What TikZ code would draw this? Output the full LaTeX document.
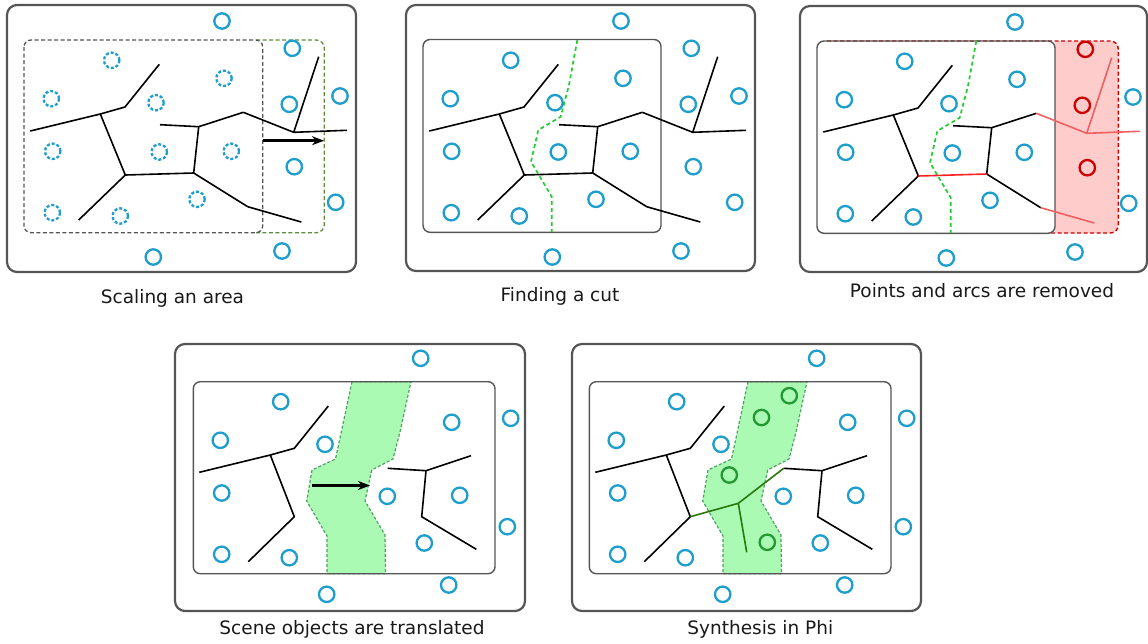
\documentclass[tikz,border=0pt]{standalone}
\usepackage{fontspec}
\setmainfont{DejaVu Sans}
\usetikzlibrary{arrows.meta}
\definecolor{cblue}{RGB}{30,158,204}
\definecolor{boxgray}{RGB}{85,85,85}
\definecolor{cutgreen}{RGB}{34,204,51}
\definecolor{scalegreen}{RGB}{95,140,60}
\definecolor{regfill}{RGB}{255,204,204}
\definecolor{regborder}{RGB}{204,0,0}
\definecolor{salmon}{RGB}{240,96,96}
\definecolor{brightred}{RGB}{255,34,34}
\definecolor{transfill}{RGB}{170,250,180}
\definecolor{transborder}{RGB}{80,160,100}
\definecolor{newgreen}{RGB}{34,153,51}
\definecolor{newline}{RGB}{40,120,10}
\tikzset{
  outerbox/.style={draw=boxgray, line width=2.2pt, rounded corners=10pt},
  innerbox/.style={draw=boxgray, line width=1.4pt, rounded corners=7pt},
  graydash/.style={draw=boxgray, line width=1.3pt, rounded corners=7pt, dash pattern=on 4pt off 2.5pt},
  scaledash/.style={draw=scalegreen, line width=1.3pt, rounded corners=8pt, dash pattern=on 4pt off 2.5pt},
  regdash/.style={draw=regborder, line width=1.4pt, rounded corners=8pt, dash pattern=on 4pt off 2.5pt},
  pt/.style={draw=cblue, line width=2.3pt},
  dpt/.style={pt, dash pattern=on 3pt off 2pt},
  redpt/.style={draw=regborder, line width=2.3pt},
  greenpt/.style={draw=newgreen, line width=2.3pt},
  edge/.style={draw=black, line width=1.6pt},
  cutline/.style={draw=cutgreen, line width=1.7pt, dash pattern=on 4pt off 3pt},
  bigarrow/.style={draw=black, line width=3.2pt, -{Stealth[length=12pt,width=9pt]}},
  caption/.style={font=\fontsize{18.5}{22}\selectfont, text=black!90, anchor=base, inner sep=0pt},
  transregion/.style={fill=transfill, draw=transborder, line width=1.2pt, dash pattern=on 3pt off 2pt}
}
\newcommand\defpts{%
  \coordinate (P1) at (429.3,131);
  \coordinate (P2) at (499.3,114);
  \coordinate (P3) at (524,107);
  \coordinate (P4) at (558.3,64.3);
  \coordinate (P5) at (524.3,175);
  \coordinate (P6) at (592.7,173);
  \coordinate (P7) at (477.7,220);
  \coordinate (P8) at (597.7,126.7);
  \coordinate (P9) at (559,124.7);
  \coordinate (P10) at (642.3,112.3);
  \coordinate (P11) at (692.7,132.3);
  \coordinate (P12) at (746,130.3);
  \coordinate (P13) at (717.7,56.7);
  \coordinate (P14) at (646.7,206.7);
  \coordinate (P15) at (700.3,222);
}
\newcommand\leftedges{(P1) -- (P2) -- (P3) -- (P4) (P2) -- (P5) -- (P7) (P6) -- (P8) -- (P9) (P8) -- (P10) (P6) -- (P14)}
\newcommand\rightedges{(P10) -- (P11) -- (P12) (P11) -- (P13) (P14) -- (P15)}
\newcommand\cutpath{(577.3,40) -- (569,85) -- (560.7,116.7) -- (538.3,130) -- (531,161.7) -- (551.7,196.7) -- (551.7,232)}
\newcommand\inpts{510.7/60.3, 623/78.3, 450.3/98.7, 555/102.7, 451.7/151.3, 558.3/152, 630.3/151.3, 596/199.3, 451.3/212.7, 519.3/216}
\newcommand\outpts{621/21, 739/96, 734.7/202.3, 681/251, 552.3/257}
\newcommand\rempts{691.3/48.3, 688.3/104.3, 693.3/166.7}
\newcommand\lowpts{420.7/358.3, 280.7/401.7, 220.3/440.3, 325/444.3, 451.7/422.3, 510.7/418.3, 221.7/493, 387.3/496.3, 459.7/495.3, 507.3/526.7, 424.3/543, 221.7/554.3, 289.3/557.7, 448.7/585, 326.7/594.3}
\newcommand\defqpts{%
  \coordinate (Q1) at (199.3,472.3);
  \coordinate (Q2) at (270.3,455);
  \coordinate (Q3) at (294.3,448.3);
  \coordinate (Q4) at (328.3,406);
  \coordinate (Q5) at (294.3,516.7);
  \coordinate (Q7) at (248.3,561.7);
  \coordinate (R9) at (387.7,468.3);
  \coordinate (R8) at (426,470.7);
  \coordinate (R10) at (471,455.7);
  \coordinate (R6) at (421.7,516.7);
  \coordinate (R14) at (476.3,549.3);
}
\newcommand\lowedges{(Q1) -- (Q2) -- (Q3) -- (Q4) (Q2) -- (Q5) -- (Q7) (R9) -- (R8) -- (R10) (R8) -- (R6) -- (R14)}
\newcommand\transpoly{(352,381.7) -- (335.5,459) -- (312,470) -- (306.7,501) -- (327,536) -- (327,573.7) -- (385.5,573.7) -- (385,535) -- (365,501) -- (371.7,470) -- (393,459) -- (400,432) -- (411,381.7) -- cycle}
\begin{document}
\begin{tikzpicture}[x=1pt,y=-1pt]
\useasboundingbox (0,0) rectangle (1148,643);

% ---------- Panel 1: Scaling an area ----------
\draw[outerbox] (7,5) rectangle (356,272);
\begin{scope}[shift={(-399,0)}]
  \defpts
  \draw[scaledash] (655,40) -- (723.3,40) -- (723.3,232.7) -- (655,232.7);
  \draw[graydash] (423,40) rectangle (661.7,232.7);
  \foreach \x/\y in \inpts \draw[dpt] (\x,\y) circle[radius=7.7];
  \foreach \x/\y in \outpts \draw[pt] (\x,\y) circle[radius=7.7];
  \foreach \x/\y in \rempts \draw[pt] (\x,\y) circle[radius=7.7];
  \draw[edge] \leftedges;
  \draw[edge] (P5) -- (P6);
  \draw[edge] \rightedges;
  \coordinate (A1) at (662.3,140.7);
  \coordinate (A2) at (723,140.7);
  \draw[bigarrow] (A1) -- (A2);
\end{scope}
\node[caption] (lab1) at (172.5,303.3) {Scaling an area};

% ---------- Panel 2: Finding a cut ----------
\draw[outerbox] (406,5) rectangle (755,271);
\begin{scope}
  \defpts
  \draw[innerbox] (423,39.5) rectangle (661,232.3);
  \draw[edge] \leftedges;
  \draw[edge] (P5) -- (P6);
  \draw[edge] \rightedges;
  \draw[cutline] \cutpath;
  \foreach \x/\y in \inpts \draw[pt] (\x,\y) circle[radius=7.7];
  \foreach \x/\y in \outpts \draw[pt] (\x,\y) circle[radius=7.7];
  \foreach \x/\y in \rempts \draw[pt] (\x,\y) circle[radius=7.7];
\end{scope}
\node[caption] (lab2) at (560,301.5) {Finding a cut};

% ---------- Panel 3: Points and arcs are removed ----------
\draw[outerbox] (800,6) rectangle (1147,272);
\begin{scope}[shift={(394,1)}]
  \defpts
  \begin{scope}
    \clip (661,0) rectangle (760,260);
    \fill[regfill, rounded corners=8pt] (620,40) rectangle (724.3,232);
  \end{scope}
  \draw[regdash] (433,40) -- (724.3,40) -- (724.3,232) -- (655,232);
  \draw[innerbox] (423,40) rectangle (661,232.3);
  \begin{scope}[shift={(5,0)}]
    \draw[cutline] \cutpath;
  \end{scope}
  \draw[edge] \leftedges;
  \draw[edge, draw=brightred] (P5) -- (P6);
  \draw[edge, draw=salmon] \rightedges;
  \foreach \x/\y in \inpts \draw[pt] (\x,\y) circle[radius=7.7];
  \foreach \x/\y in \outpts \draw[pt] (\x,\y) circle[radius=7.7];
  \foreach \x/\y in \rempts \draw[redpt] (\x,\y) circle[radius=7.7];
\end{scope}
\node[caption] (lab3) at (982,297.7) {Points and arcs are removed};

% ---------- Panel 4: Scene objects are translated ----------
\draw[outerbox] (175,344) rectangle (525,611);
\begin{scope}
  \defqpts
  \draw[transregion] \transpoly;
  \draw[innerbox] (193.3,381.7) rectangle (495,573.7);
  \draw[edge] \lowedges;
  \foreach \x/\y in \lowpts \draw[pt] (\x,\y) circle[radius=7.7];
  \coordinate (B1) at (311.7,485.5);
  \coordinate (B2) at (370,485.5);
  \draw[bigarrow] (B1) -- (B2);
\end{scope}
\node[caption] (lab4) at (352,634.3) {Scene objects are translated};

% ---------- Panel 5: Synthesis in Phi ----------
\draw[outerbox] (572,344) rectangle (921,611);
\begin{scope}[shift={(396,0)}]
  \defqpts
  \coordinate (J) at (342.3,503.3);
  \coordinate (G4) at (350.7,552.3);
  \draw[transregion] \transpoly;
  \draw[innerbox] (193.3,381.7) rectangle (495,573.7);
  \draw[edge] \lowedges;
  \draw[edge, draw=newline] (Q5) -- (J) -- (R9) (J) -- (G4);
  \foreach \x/\y in \lowpts \draw[pt] (\x,\y) circle[radius=7.7];
  \foreach \x/\y in {393.3/395.7, 365.5/417.5, 333.3/475, 371.3/542.3} \draw[greenpt] (\x,\y) circle[radius=7.7];
\end{scope}
\node[caption] (lab5) at (760.3,634.3) {Synthesis in Phi};
\end{tikzpicture}
\end{document}
